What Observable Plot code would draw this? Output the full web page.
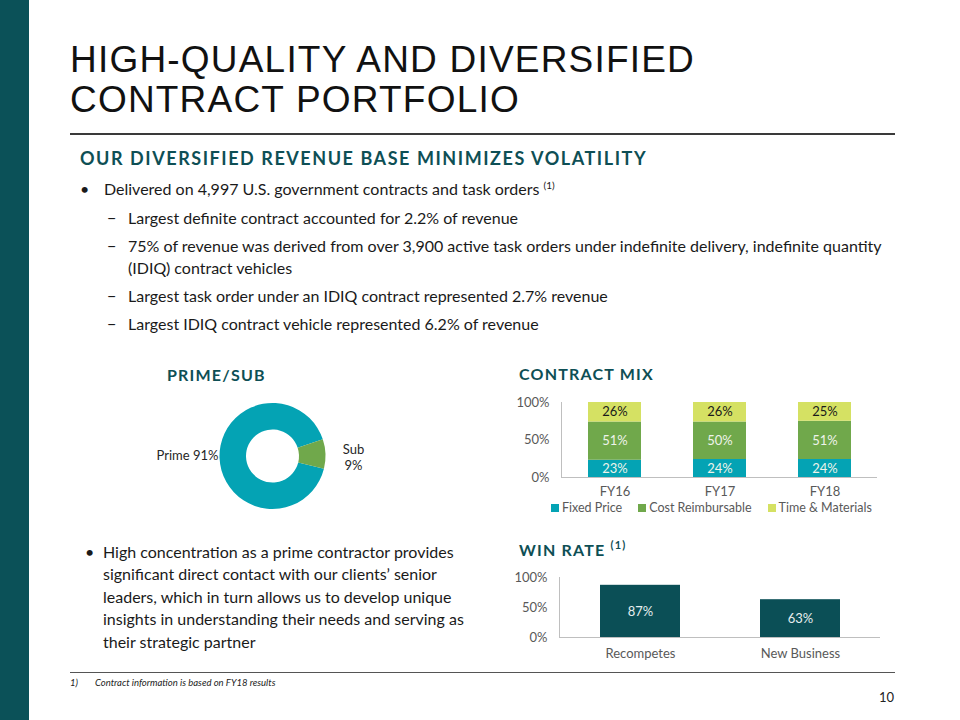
<!DOCTYPE html>
<html>
<head>
<meta charset="utf-8">
<script src="https://cdn.jsdelivr.net/npm/d3@7"></script>
<script src="https://cdn.jsdelivr.net/npm/@observablehq/plot@0.6"></script>
<style>
  html, body { margin: 0; padding: 0; background: #fff; }
  body { width: 960px; height: 720px; position: relative; overflow: hidden; font-family: Lato, "Open Sans", sans-serif; color: #1a1a1a; }
  .abs { position: absolute; white-space: nowrap; line-height: 1; }
  .side { position: absolute; left: 0; top: 0; width: 29px; height: 720px; background: #0b5158; }
  .title { position: absolute; left: 70px; top: 40px; font-family: "Liberation Sans", Arial, sans-serif; font-size: 37px; line-height: 40px; color: #111; white-space: nowrap; letter-spacing: 1.2px; }
  .rule { position: absolute; left: 70px; width: 825px; height: 1.5px; background: #3a3a3a; }
  .head { font-weight: 700; color: #0e4f55; letter-spacing: 1.2px; }
  .body16 { font-size: 16px; }
  sup { font-size: 10px; vertical-align: 6px; line-height: 0; }
  .legend { position: absolute; left: 551px; top: 500px; display: flex; align-items: center; font-size: 12.5px; color: #595959; white-space: nowrap; }
  .legend .sw { width: 8px; height: 8px; margin-right: 3px; }
  .legend .item { display: flex; align-items: center; margin-right: 16px; }
  .chart { position: absolute; }
  .chart svg { max-width: none !important; }
</style>
</head>
<body>
<div class="side"></div>
<div class="title">HIGH-QUALITY AND DIVERSIFIED<br>CONTRACT PORTFOLIO</div>
<div class="rule" style="top:133px"></div>

<div class="abs head" style="left:80px; top:149px; font-size:18px; letter-spacing:1.55px;">OUR DIVERSIFIED REVENUE BASE MINIMIZES VOLATILITY</div>

<div class="abs body16" style="left:80px; top:181px;">•</div>
<div class="abs body16" style="left:104px; top:181px;">Delivered on 4,997 U.S. government contracts and task orders <sup>(1)</sup></div>
<div class="abs body16" style="left:107px; top:210px;">−</div>
<div class="abs body16" style="left:128px; top:210px;">Largest definite contract accounted for 2.2% of revenue</div>
<div class="abs body16" style="left:107px; top:238px;">−</div>
<div class="abs body16" style="left:128px; top:238px;">75% of revenue was derived from over 3,900 active task orders under indefinite delivery, indefinite quantity</div>
<div class="abs body16" style="left:128px; top:259.5px;">(IDIQ) contract vehicles</div>
<div class="abs body16" style="left:107px; top:287.5px;">−</div>
<div class="abs body16" style="left:128px; top:287.5px;">Largest task order under an IDIQ contract represented 2.7% revenue</div>
<div class="abs body16" style="left:107px; top:316px;">−</div>
<div class="abs body16" style="left:128px; top:316px;">Largest IDIQ contract vehicle represented 6.2% of revenue</div>

<div class="abs head" style="left:167px; top:367px; font-size:16px;">PRIME/SUB</div>
<div class="abs head" style="left:519px; top:366px; font-size:16px;">CONTRACT MIX</div>
<div class="abs head" style="left:519px; top:542px; font-size:16px;">WIN RATE <sup style="font-size:11px; vertical-align:7px;">(1)</sup></div>

<div class="abs body16" style="left:85px; top:540.6px; line-height:22.5px;">•</div>
<div class="abs body16" style="left:103px; top:540.6px; line-height:22.5px;">High concentration as a prime contractor provides<br>significant direct contact with our clients’ senior<br>leaders, which in turn allows us to develop unique<br>insights in understanding their needs and serving as<br>their strategic partner</div>

<div id="donut" class="chart" style="left:140px; top:395px;"></div>
<div id="mix" class="chart" style="left:500px; top:392px;"></div>
<div id="legend" class="legend"></div>
<div id="win" class="chart" style="left:500px; top:567px;"></div>

<div class="rule" style="top:671.5px; height:1.5px; background:#555;"></div>
<div class="abs" style="left:70px; top:678px; font-size:9.5px; font-style:italic; color:#222;">1)</div>
<div class="abs" style="left:95px; top:678px; font-size:9.5px; font-style:italic; color:#222;">Contract information is based on FY18 results</div>
<div class="abs" style="left:879px; top:691px; font-size:13px; color:#222;">10</div>

<script>
// ---------- DATA ----------
const primeSubLabels = ["Prime", "Sub"];
const primeSubValues = [91, 9];

const mixYears = ["FY16", "FY17", "FY18"];
const mixTypes = ["Fixed Price", "Cost Reimbursable", "Time & Materials"];
const fixedPrice = [23, 24, 24];
const costReimbursable = [51, 50, 51];
const timeMaterials = [26, 26, 25];

const winCategories = ["Recompetes", "New Business"];
const winRates = [87, 63];

const pctTicks = [0, 50, 100];

// ---------- STYLE ----------
const TEAL = "#04a3b4";
const GREEN = "#70a84b";
const LIME = "#d5e163";
const DARK = "#0b4f56";
const AXIS = "#bfbfbf";
const chartStyle = { fontFamily: "Lato, 'Open Sans', sans-serif", fontSize: "13px", color: "#595959", background: "transparent", overflow: "visible" };

// ---------- DONUT ----------
const primeColor = Plot.scale({ color: { domain: primeSubLabels, range: [TEAL, GREEN] } });
const pieData = primeSubLabels.map((label, i) => ({ label, value: primeSubValues[i] }));
const startRad = 104 * Math.PI / 180;

const donut = Plot.plot({
  width: 260, height: 125, margin: 0,
  style: chartStyle,
  marks: [
    () => {
      const cx = 132.5, cy = 61, r = 53;
      const g = d3.create("svg:g");
      const arcs = d3.pie().value(d => d.value).sort(null).startAngle(startRad).endAngle(startRad + 2 * Math.PI)(pieData);
      const arc = d3.arc().innerRadius(r * 0.5).outerRadius(r);
      g.append("g").attr("transform", `translate(${cx},${cy})`)
        .selectAll("path").data(arcs).join("path")
        .attr("d", arc).attr("fill", d => primeColor.apply(d.data.label));
      g.append("text").attr("x", cx - r - 1).attr("y", cy + 4).attr("text-anchor", "end")
        .attr("fill", "#262626").text(`${pieData[0].label} ${pieData[0].value}%`);
      const t = g.append("text").attr("text-anchor", "middle").attr("fill", "#262626");
      t.append("tspan").attr("x", cx + r + 28).attr("y", cy - 2).text(pieData[1].label);
      t.append("tspan").attr("x", cx + r + 28).attr("y", cy + 14).text(`${pieData[1].value}%`);
      return g.node();
    }
  ]
});
document.getElementById("donut").append(donut);

// ---------- CONTRACT MIX ----------
const mixSeries = [fixedPrice, costReimbursable, timeMaterials];
const mixData = mixYears.flatMap((year, i) => mixTypes.map((type, j) => ({ year, type, value: mixSeries[j][i] })));
const mixColors = [TEAL, GREEN, LIME];

const mix = Plot.plot({
  width: 377, height: 113,
  marginLeft: 61, marginRight: 0, marginTop: 10, marginBottom: 28,
  style: chartStyle,
  x: { domain: mixYears, paddingInner: 0.5, paddingOuter: 0.25, label: null, tickSize: 0, tickPadding: 9 },
  y: { domain: [0, 100], ticks: pctTicks, tickFormat: d => d + "%", label: null, tickSize: 0, tickPadding: 12 },
  color: { domain: mixTypes, range: mixColors },
  marks: [
    Plot.barY(mixData, Plot.stackY({ x: "year", y: "value", fill: "type" })),
    Plot.text(mixData, Plot.stackY({ x: "year", y: "value", text: d => d.type === mixTypes[2] ? "" : d.value + "%", fill: "#eef3ea" })),
    Plot.text(mixData, Plot.stackY({ x: "year", y: "value", text: d => d.type === mixTypes[2] ? d.value + "%" : "", fill: "#1a1a1a" })),
    Plot.ruleY([0], { stroke: AXIS }),
    Plot.frame({ anchor: "left", stroke: AXIS })
  ]
});
document.getElementById("mix").append(mix);

// legend
const legend = document.getElementById("legend");
mixTypes.forEach((type, i) => {
  const item = document.createElement("div");
  item.className = "item";
  const sw = document.createElement("div");
  sw.className = "sw";
  sw.style.background = mixColors[i];
  const lab = document.createElement("span");
  lab.textContent = type;
  item.append(sw, lab);
  legend.append(item);
});

// ---------- WIN RATE ----------
const winData = winCategories.map((cat, i) => ({ cat, value: winRates[i] }));
const win = Plot.plot({
  width: 380, height: 100,
  marginLeft: 59, marginRight: 0, marginTop: 10, marginBottom: 30,
  style: chartStyle,
  x: { domain: winCategories, paddingInner: 0.5, paddingOuter: 0.25, label: null, tickSize: 0, tickPadding: 11 },
  y: { domain: [0, 100], ticks: pctTicks, tickFormat: d => d + "%", label: null, tickSize: 0, tickPadding: 12 },
  marks: [
    Plot.barY(winData, { x: "cat", y: "value", fill: DARK }),
    Plot.text(winData, { x: "cat", y: d => d.value / 2, text: d => d.value + "%", fill: "#e6eeee" }),
    Plot.ruleY([0], { stroke: AXIS }),
    Plot.frame({ anchor: "left", stroke: AXIS })
  ]
});
document.getElementById("win").append(win);
</script>
</body>
</html>
